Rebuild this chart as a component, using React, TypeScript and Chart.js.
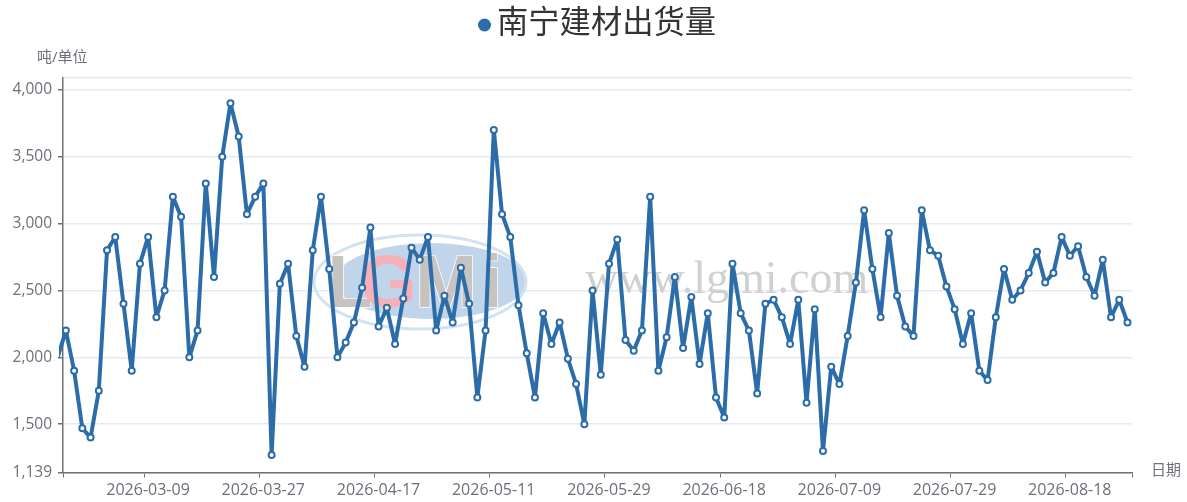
import { useEffect, useRef } from 'react';
import { Chart, registerables } from 'chart.js';

Chart.register(...registerables);

const seriesName = '南宁建材出货量';
const yUnit = '吨/单位';
const xUnit = '日期';

// 第一个值在坐标轴左边，只露出一小段线
const shipments = [
  2000, 2200, 1900, 1470, 1400, 1750, 2800, 2900, 2400, 1900, 2700,
  2900, 2300, 2500, 3200, 3050, 2000, 2200, 3300, 2600, 3500,
  3900, 3650, 3070, 3200, 3300, 1270, 2550, 2700, 2160, 1930,
  2800, 3200, 2660, 2000, 2110, 2260, 2520, 2970, 2230, 2370,
  2100, 2440, 2820, 2730, 2900, 2200, 2460, 2260, 2670, 2400,
  1700, 2200, 3700, 3070, 2900, 2390, 2030, 1700, 2330, 2100,
  2260, 1990, 1800, 1500, 2500, 1870, 2700, 2880, 2130, 2050,
  2200, 3200, 1900, 2150, 2600, 2070, 2450, 1950, 2330, 1700,
  1550, 2700, 2330, 2200, 1730, 2400, 2430, 2300, 2100, 2430,
  1660, 2360, 1300, 1930, 1800, 2160, 2560, 3100, 2660, 2300,
  2930, 2460, 2230, 2160, 3100, 2800, 2760, 2530, 2360, 2100,
  2330, 1900, 1830, 2300, 2660, 2430, 2500, 2630, 2790, 2560,
  2630, 2900, 2760, 2830, 2600, 2460, 2730, 2300, 2430, 2260,
];

const dateLabels = [
  '2026-03-09', '2026-03-27', '2026-04-17', '2026-05-11', '2026-05-29',
  '2026-06-18', '2026-07-09', '2026-07-29', '2026-08-18',
];
const yTicks = [1139, 1500, 2000, 2500, 3000, 3500, 4000, 4088];

const xMin = 0.65;
const xMax = 130.55;
const firstDateTick = 10.5;
const dateTickStep = 14;

const FONT = '"Open Sans", "Noto Sans CJK SC", sans-serif';
const AXIS_COLOR = '#6e7079';
const GRID_COLOR = '#e4e9f4';
const LINE_COLOR = '#2b6ca9';

// 水印、图例和两个坐标轴名称
const overlays = {
  id: 'overlays',
  beforeDatasetsDraw(chart: Chart) {
    const ctx = chart.ctx;
    ctx.save();
    ctx.fillStyle = '#c0d5ea';
    ctx.beginPath();
    ctx.ellipse(431, 281, 96, 38, 0, 0, Math.PI * 2);
    ctx.fill();
    ctx.strokeStyle = '#d3e2f0';
    ctx.lineWidth = 3;
    ctx.beginPath();
    ctx.ellipse(420, 282, 106, 47, 0, 0, Math.PI * 2);
    ctx.stroke();

    ctx.textBaseline = 'alphabetic';
    ctx.textAlign = 'center';
    ctx.font = 'bold 74px "Liberation Sans"';
    ctx.strokeStyle = '#fff';
    ctx.lineWidth = 1.5;
    ctx.fillStyle = '#c6c3c1';
    ctx.strokeText('L', 350, 307);
    ctx.fillText('L', 350, 307);
    ctx.strokeText('M', 446, 307);
    ctx.fillText('M', 446, 307);
    ctx.strokeText('i', 492, 307);
    ctx.fillText('i', 492, 307);
    ctx.fillStyle = '#f7b0b7';
    ctx.fillText('G', 388, 307);

    ctx.font = '46px "Liberation Serif"';
    ctx.textAlign = 'left';
    ctx.fillStyle = '#d0d0d0';
    ctx.fillText('www.lgmi.com', 585, 293);
    ctx.restore();
  },
  afterDraw(chart: Chart) {
    const ctx = chart.ctx;
    ctx.save();
    ctx.fillStyle = LINE_COLOR;
    ctx.beginPath();
    ctx.arc(484.5, 25, 6.5, 0, Math.PI * 2);
    ctx.fill();
    ctx.fillStyle = '#333';
    ctx.font = `31.3px ${FONT}`;
    ctx.textBaseline = 'middle';
    ctx.textAlign = 'left';
    ctx.fillText(seriesName, 497, 24);

    ctx.font = `15px ${FONT}`;
    ctx.fillStyle = AXIS_COLOR;
    ctx.fillText(yUnit, 37, 58);
    ctx.fillText(xUnit, 1151, 471);
    ctx.restore();
  },
};

export default function App() {
  const canvasRef = useRef<HTMLCanvasElement>(null);

  useEffect(() => {
    document.body.style.margin = '0';
    if (!canvasRef.current) return;

    const chart = new Chart(canvasRef.current, {
      type: 'line',
      data: {
        datasets: [
          {
            label: seriesName,
            data: shipments.map((v, i) => ({ x: i, y: v })),
            borderColor: LINE_COLOR,
            backgroundColor: LINE_COLOR,
            borderWidth: 4,
            borderJoinStyle: 'round',
            tension: 0,
            pointRadius: (c: any) => (c.dataIndex === 0 ? 0 : 3),
            pointBorderWidth: 2,
            pointBorderColor: LINE_COLOR,
            pointBackgroundColor: '#fff',
            clip: { left: 4, right: 10, top: 20, bottom: 10 },
          },
        ],
      },
      options: {
        responsive: false,
        animation: false,
        layout: { padding: { top: 78, right: 55, left: 0, bottom: 0 } },
        plugins: {
          tooltip: { enabled: false },
          legend: { display: false },
        },
        scales: {
          x: {
            type: 'linear',
            min: xMin,
            max: xMax,
            afterBuildTicks: (axis: any) => {
              const dateTicks = dateLabels.map((_, k) => ({
                value: firstDateTick + k * dateTickStep,
              }));
              axis.ticks = [{ value: xMin }, ...dateTicks, { value: xMax }];
            },
            afterFit: (axis: any) => {
              axis.height = 29.5;
            },
            grid: {
              drawOnChartArea: false,
              tickLength: 5,
              tickColor: AXIS_COLOR,
            },
            border: { color: AXIS_COLOR, width: 1.5 },
            ticks: {
              autoSkip: false,
              maxRotation: 0,
              color: AXIS_COLOR,
              padding: 3,
              labelOffset: 4,
              font: { family: FONT, size: 16 },
              callback: (value: any) => {
                const k = (Number(value) - firstDateTick) / dateTickStep;
                return Number.isInteger(k) ? dateLabels[k] : '';
              },
            },
          },
          y: {
            min: 1139,
            max: 4088,
            afterBuildTicks: (axis: any) => {
              axis.ticks = yTicks.map((value) => ({ value }));
            },
            afterFit: (axis: any) => {
              axis.width = 63;
            },
            grid: {
              color: GRID_COLOR,
              lineWidth: 1.5,
              tickLength: 5,
              tickColor: (c: any) =>
                c.tick && c.tick.value === 4088 ? 'transparent' : AXIS_COLOR,
            },
            border: { color: AXIS_COLOR, width: 1.5 },
            ticks: {
              color: AXIS_COLOR,
              padding: 6,
              font: { family: FONT, size: 15.5 },
              callback: (value: any) =>
                value === 4088 ? '' : Number(value).toLocaleString('en-US'),
            },
          },
        },
      },
      plugins: [overlays],
    } as any);

    return () => {
      chart.destroy();
    };
  }, []);

  return (
    <div style={{ width: 1187, height: 502 }}>
      <canvas ref={canvasRef} width={1187} height={502} style={{ display: 'block' }} />
    </div>
  );
}
